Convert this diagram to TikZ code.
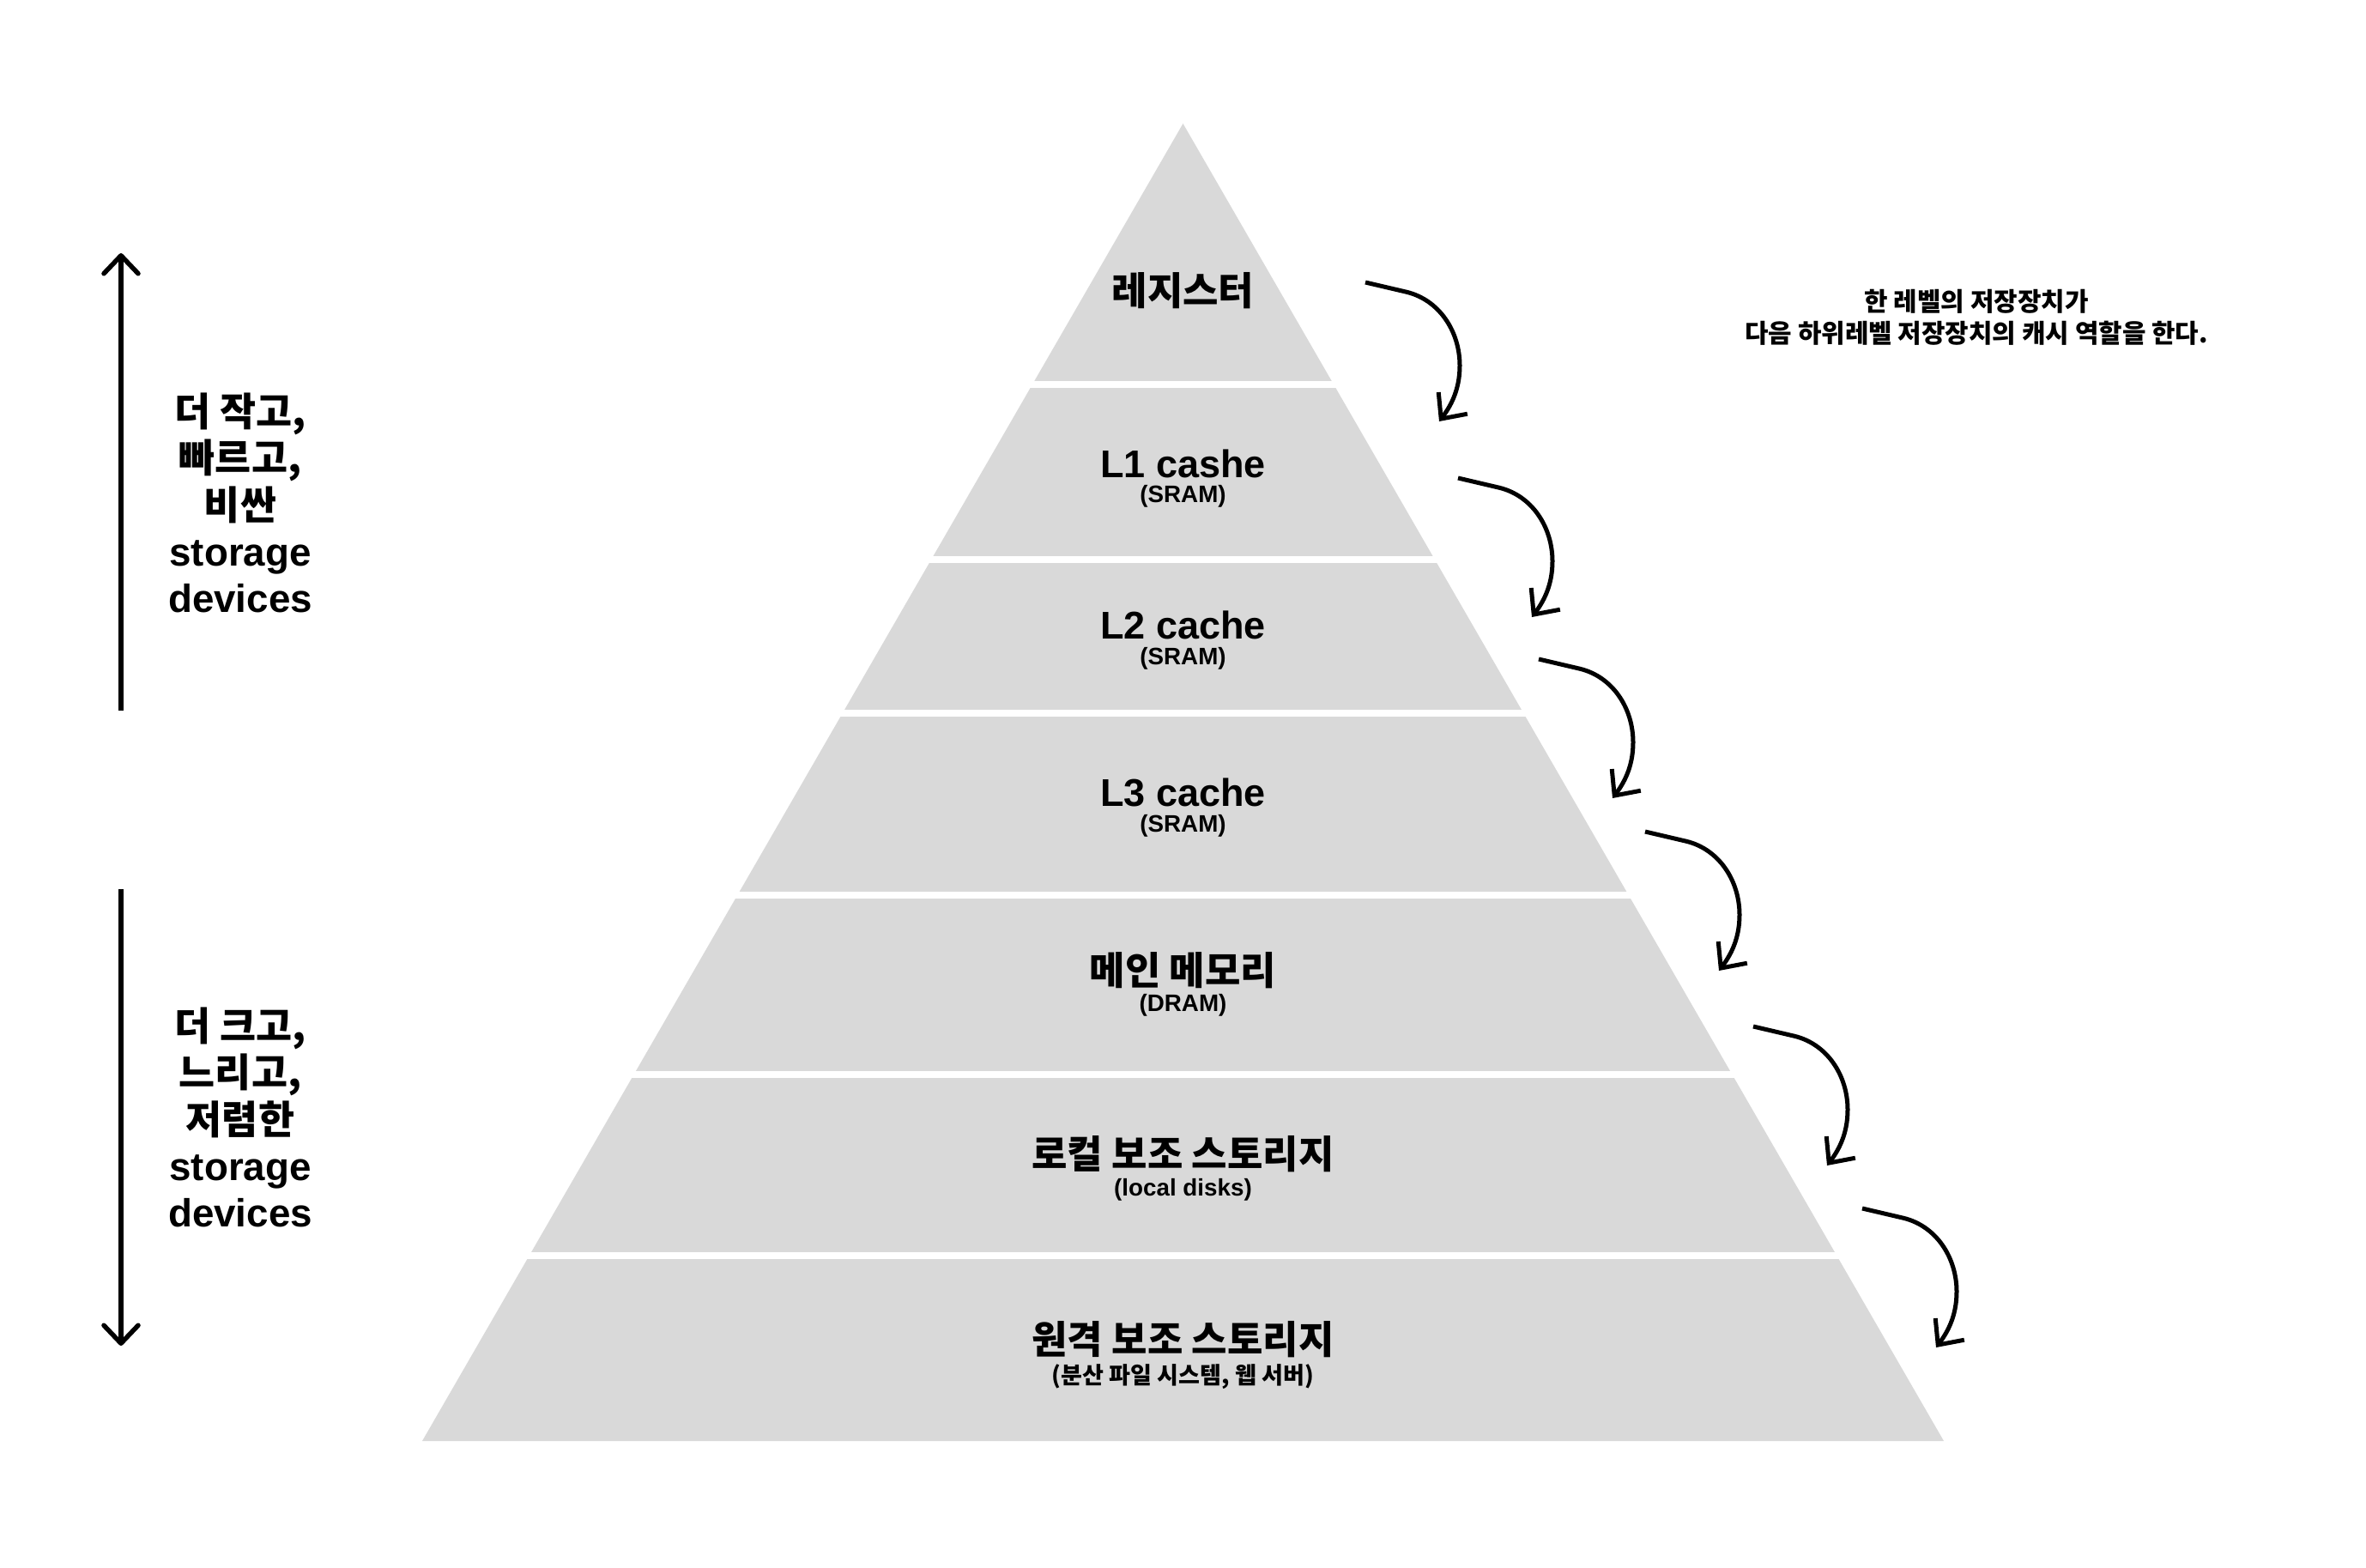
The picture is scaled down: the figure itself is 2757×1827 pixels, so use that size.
\documentclass[tikz,border=0pt]{standalone}
\usepackage{fontspec}
\setmainfont{Liberation Sans}
\newfontfamily\kr{Noto Sans CJK KR}
\usetikzlibrary{arrows.meta}
\definecolor{bandgray}{HTML}{D9D9D9}
\begin{document}
\begin{tikzpicture}[x=0.01cm,y=-0.01cm,
  krlbl/.style={font=\kr\bfseries\fontsize{12.8}{15}\selectfont, inner sep=0pt},
  latlbl/.style={font=\bfseries\fontsize{12.8}{15}\selectfont, inner sep=0pt},
  sublbl/.style={font=\bfseries\fontsize{7.9}{9}\selectfont, inner sep=0pt},
  krsub/.style={font=\kr\bfseries\fontsize{7.7}{9}\selectfont, inner sep=0pt},
  cachearrow/.style={line width=0.05cm, -{Straight Barb[length=0.23cm,width=0.42cm]}},
  sidearrow/.style={line width=0.055cm, -{Straight Barb[length=0.21cm,width=0.40cm,round]}},
  sidetext/.style={align=center, inner sep=0pt, font=\bfseries\fontsize{13}{15.4}\selectfont},
  note/.style={align=center, inner sep=0pt, font=\kr\bfseries\fontsize{8.5}{10.5}\selectfont}
]
\useasboundingbox[fill=white] (0,0) rectangle (2757,1827);

% pyramid bands
\coordinate (apex) at (1378.5,144);
\coordinate (bl) at (492,1679);
\coordinate (br) at (2265,1679);
\foreach \t/\b in {100/443.5, 452.5/647.5, 656.5/826.5, 835.5/1038.5, 1047.5/1247.5, 1256.5/1458.5, 1467.5/1700}{
  \begin{scope}
    \clip (0,\t) rectangle (2757,\b);
    \fill[bandgray] (apex) -- (bl) -- (br) -- cycle;
  \end{scope}
}

% labels
\node[krlbl] (reg) at (1378.5,339) {레지스터};
\node[latlbl] (l1) at (1378.5,540) {L1 cashe};
\node[sublbl] (l1s) at (1378.5,578) {(SRAM)};
\node[latlbl] (l2) at (1378.5,728) {L2 cache};
\node[sublbl] (l2s) at (1378.5,767) {(SRAM)};
\node[latlbl] (l3) at (1378.5,923) {L3 cache};
\node[sublbl] (l3s) at (1378.5,962) {(SRAM)};
\node[krlbl] (mem) at (1378.5,1131) {메인 메모리};
\node[sublbl] (mems) at (1378.5,1171) {(DRAM)};
\node[krlbl] (loc) at (1378.5,1345) {로컬 보조 스토리지};
\node[sublbl] (locs) at (1378.5,1386) {(local disks)};
\node[krlbl] (rem) at (1378.5,1561) {원격 보조 스토리지};
\node[krsub] (rems) at (1378.5,1604) {(분산 파일 시스템, 웹 서버)};

% side texts
\node[sidetext] (fast) at (280,586) {{\kr\bfseries 더 작고,}\\{\kr\bfseries 빠르고,}\\{\kr\bfseries 비싼}\\{\bfseries storage}\\{\bfseries devices}};
\node[sidetext] (slow) at (280,1302) {{\kr\bfseries 더 크고,}\\{\kr\bfseries 느리고,}\\{\kr\bfseries 저렴한}\\{\bfseries storage}\\{\bfseries devices}};
\node[note] (nt) at (2303,370) {한 레벨의 저장장치가\\다음 하위레벨 저장장치의 캐시 역할을 한다.};

% side arrows
\coordinate (upB) at (141,828);
\coordinate (upT) at (141,295);
\coordinate (dnT) at (141,1036);
\coordinate (dnB) at (141,1568);
\draw[sidearrow] (upB) -- (upT);
\draw[sidearrow] (dnT) -- (dnB);

% cache arrows
\foreach \i/\sx/\sy in {1/1591/329, 2/1699/557, 3/1793/768, 4/1917/969, 5/2043/1196, 6/2170/1408}{
  \coordinate (s\i) at (\sx,\sy);
  \coordinate (e\i) at (\sx+86,\sy+162);
  \draw[cachearrow] (s\i) -- ++(47,11) .. controls +(39,9) and +(0,-40) .. ++(63,86) .. controls +(0,30) and +(12,-16) .. (e\i);
}
\end{tikzpicture}
\end{document}
